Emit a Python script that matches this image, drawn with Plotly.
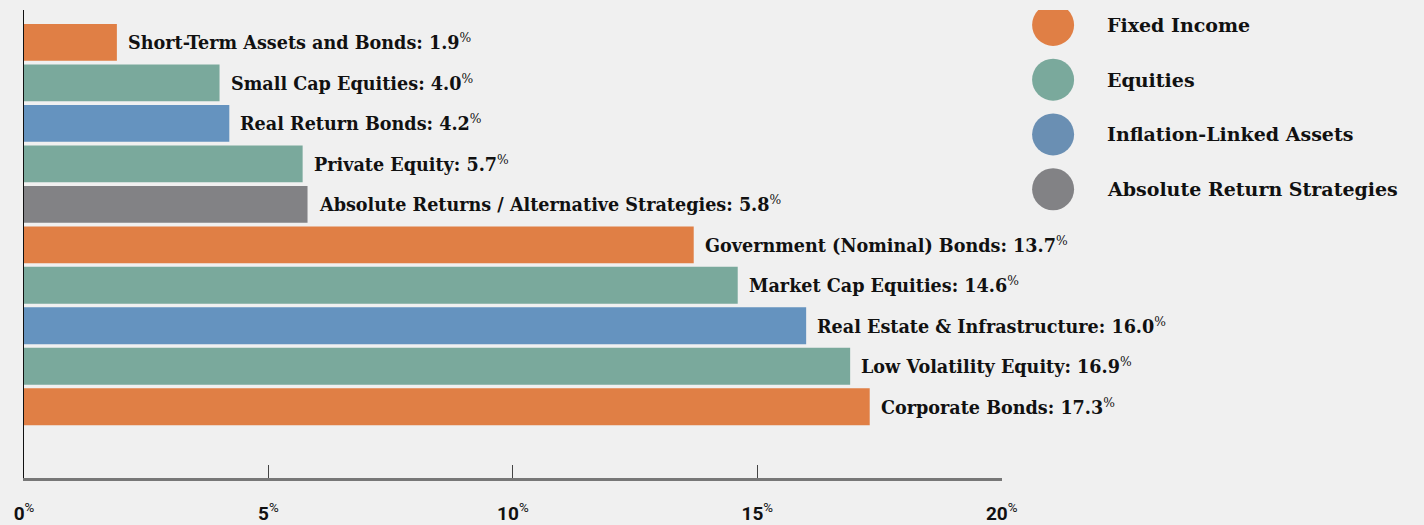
import plotly.graph_objects as go

categories = ["Short-Term Assets and Bonds", "Small Cap Equities", "Real Return Bonds",
              "Private Equity", "Absolute Returns / Alternative Strategies",
              "Government (Nominal) Bonds", "Market Cap Equities",
              "Real Estate & Infrastructure", "Low Volatility Equity", "Corporate Bonds"]
values = [1.9, 4.0, 4.2, 5.7, 5.8, 13.7, 14.6, 16.0, 16.9, 17.3]
groups = ["Fixed Income", "Equities", "Inflation-Linked Assets", "Equities",
          "Absolute Return Strategies", "Fixed Income", "Equities",
          "Inflation-Linked Assets", "Equities", "Fixed Income"]
legend_groups = ["Fixed Income", "Equities", "Inflation-Linked Assets", "Absolute Return Strategies"]
tick_values = [0, 5, 10, 15, 20]
tick_labels = ["0", "5", "10", "15", "20"]

bar_colors = {"Fixed Income": "#e07f45", "Equities": "#7aa99c",
              "Inflation-Linked Assets": "#6593bf", "Absolute Return Strategies": "#828285"}
legend_colors = {"Fixed Income": "#e07f45", "Equities": "#7aa99c",
                 "Inflation-Linked Assets": "#6a8fb3", "Absolute Return Strategies": "#828285"}

BG = "#f0f0f0"
W, H = 1424, 525
ML, MR, MT, MB = 24, 0, 10, 45
PW = W - ML - MR
x_end = (1013 - ML) / PW

label_font = dict(family="DejaVu Serif", size=17.6, color="#111111")
legend_font = dict(family="DejaVu Serif", size=19, color="#111111")

fig = go.Figure()
fig.add_trace(go.Bar(
    x=values, y=categories, orientation="h",
    marker=dict(color=[bar_colors[g] for g in groups], line=dict(width=0)),
    width=0.91, showlegend=False, hoverinfo="skip",
))

annotations = []
for c, v in zip(categories, values):
    annotations.append(dict(
        x=v, y=c, xref="x", yref="y", xanchor="left", yanchor="middle",
        xshift=9, showarrow=False,
        text=f"<b>{c}: {v:.1f}</b><sup>%</sup>", font=label_font,
    ))

# Custom legend on a secondary axis measured in pixels
leg_x0 = ML + 0.72 * PW
fig.add_trace(go.Scatter(
    x=[1065] * len(legend_groups),
    y=[15 + 55 * i for i in range(len(legend_groups))],
    mode="markers", xaxis="x2", yaxis="y2",
    marker=dict(size=42, color=[legend_colors[g] for g in legend_groups], line=dict(width=0)),
    showlegend=False, hoverinfo="skip",
))
for i, g in enumerate(legend_groups):
    annotations.append(dict(
        x=1117, y=15 + 55 * i, xref="x2", yref="y2", xanchor="left", yanchor="middle",
        showarrow=False, text=f"<b>{g}</b>", font=legend_font,
    ))

fig.update_layout(
    width=W, height=H, autosize=False,
    margin=dict(l=ML, r=MR, t=MT, b=MB),
    paper_bgcolor=BG, plot_bgcolor=BG,
    bargap=0.09,
    annotations=annotations,
    xaxis=dict(
        domain=[0, x_end], range=[0, 20], tickvals=tick_values,
        ticktext=[f"<b>{t}</b><sup>%</sup>" for t in tick_labels],
        showgrid=False, zeroline=False, showline=True, linecolor="#777777", linewidth=2.5,
        ticks="inside", ticklen=13, tickwidth=1, tickcolor="#444444",
        tickfont=dict(family="Roboto", size=19, color="#111111"),
        ticklabelstandoff=16,
    ),
    yaxis=dict(
        categoryorder="array", categoryarray=categories,
        range=[10.76, -0.8], showticklabels=False, ticks="",
        showgrid=False, zeroline=False, showline=True, linecolor="#111111", linewidth=1,
    ),
    xaxis2=dict(domain=[0.72, 1], range=[leg_x0, W], visible=False, anchor="y2"),
    yaxis2=dict(domain=[0, 1], range=[H - MT - MB, 0], visible=False, anchor="x2"),
)

post = (
    "document.documentElement.style.background='%s';"
    "document.body.style.background='%s';" % (BG, BG)
)
fig.write_html("out.html", post_script=post)
